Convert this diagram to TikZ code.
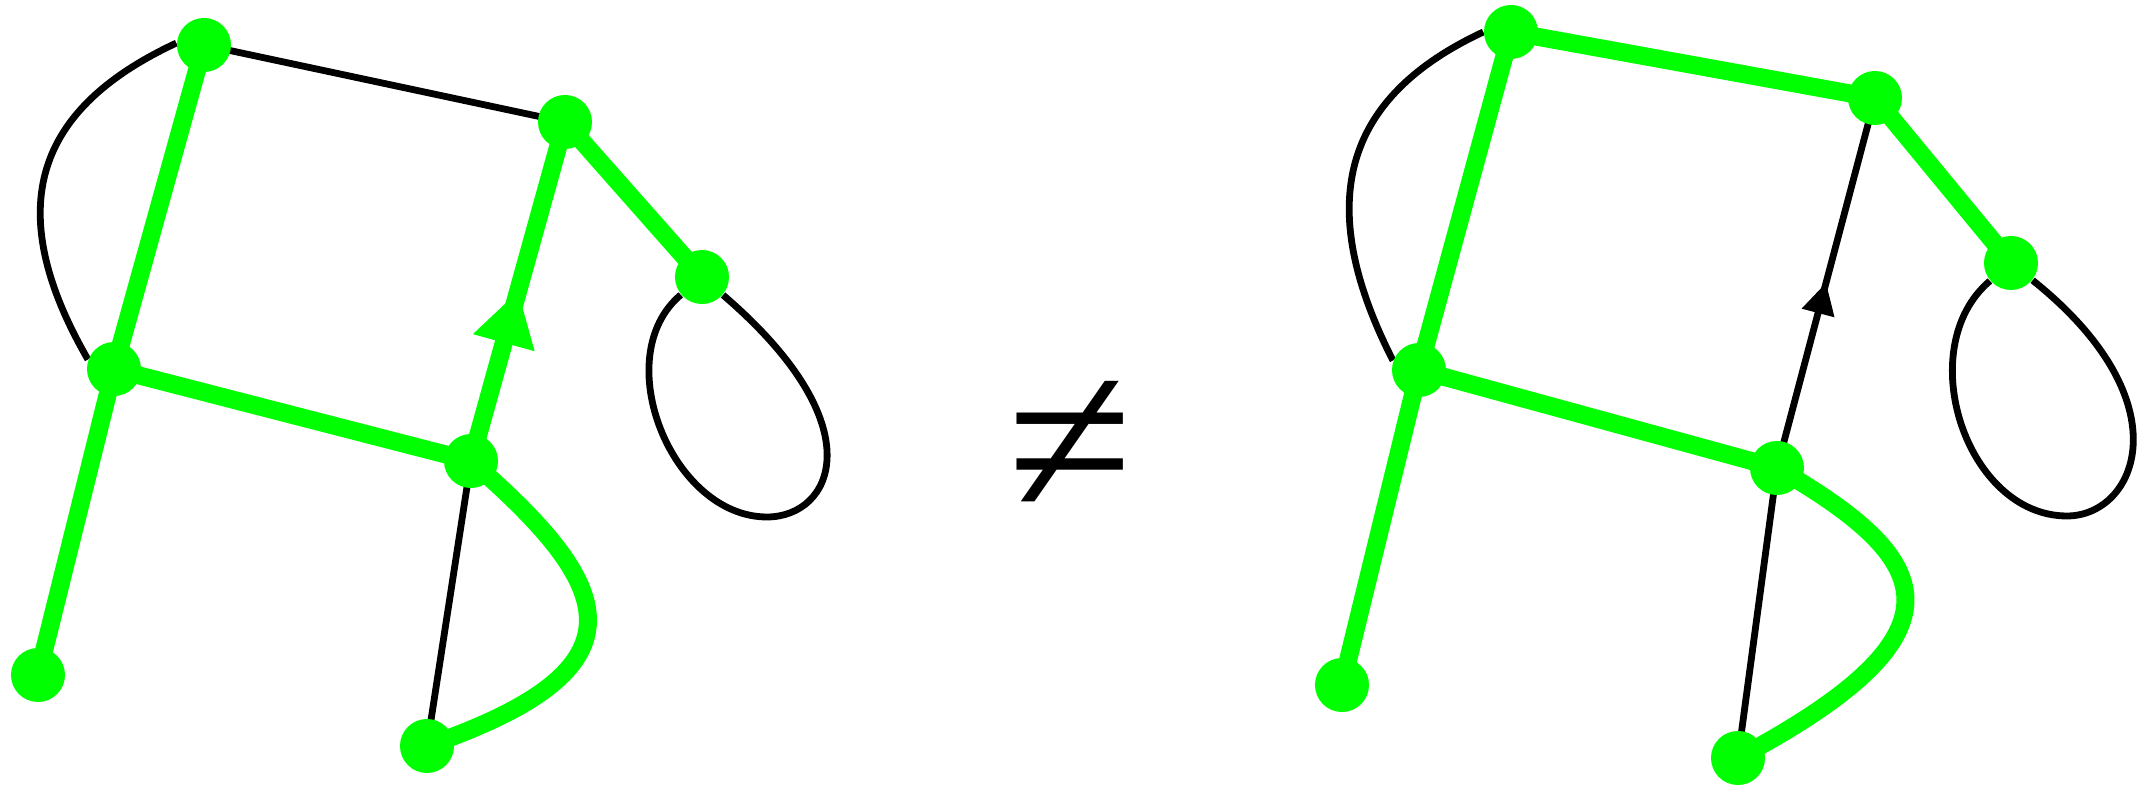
\documentclass[tikz,border=0pt]{standalone}
\usepackage{fontspec}
\newfontfamily\symfont{Liberation Serif}
\usetikzlibrary{arrows.meta,decorations.markings,backgrounds,calc}
\definecolor{gr}{RGB}{0,255,0}
\begin{document}
\begin{tikzpicture}[x=0.01cm,y=0.01cm,
  vtx/.style={circle,fill=gr,inner sep=0pt,minimum size=0.54cm},
  gline/.style={draw=gr,line width=0.18cm},
  bline/.style={draw=black,line width=0.068cm},
  garrow/.style={postaction={decorate},decoration={markings,mark=at position 0.5 with {\arrow[color=gr]{Triangle[length=0.53cm,width=0.64cm,line width=0pt]}}}},
  barrow/.style={postaction={decorate},decoration={markings,mark=at position 0.5 with {\arrow[color=black]{Triangle[length=0.31cm,width=0.34cm,line width=0pt]}}}}
]
\useasboundingbox (0,0) rectangle (2144,-786);
% left graph
\node[vtx] (A) at (204,-45) {};
\node[vtx] (B) at (565,-122) {};
\node[vtx] (C) at (702,-277) {};
\node[vtx] (D) at (114,-369) {};
\node[vtx] (E) at (471,-461) {};
\node[vtx] (F) at (38,-675) {};
\node[vtx] (G) at (427,-746) {};
% right graph
\node[vtx] (A2) at (1511,-32) {};
\node[vtx] (B2) at (1875,-98) {};
\node[vtx] (C2) at (2011,-263) {};
\node[vtx] (D2) at (1419,-370) {};
\node[vtx] (E2) at (1777,-468) {};
\node[vtx] (F2) at (1342,-685) {};
\node[vtx] (G2) at (1738,-758) {};
% not equal sign
\node[font=\symfont\fontsize{65}{65}\selectfont,inner sep=0pt] (neq) at (1070,-449) {≠};
\begin{scope}[on background layer]
  % left edges
  \draw[bline] (A.center) -- (B.center);
  \draw[bline] (A.176) .. controls ($(A.176)+(205:165)$) and ($(D.160)+(120:165)$) .. (D.160);
  \draw[gline] (A.center) -- (D.center);
  \draw[gline] (B.center) -- (C.center);
  \draw[gline,garrow] (E.center) -- (B.center);
  \draw[gline] (D.center) -- (E.center);
  \draw[gline] (D.center) -- (F.center);
  \draw[bline] (E.center) -- (G.center);
  \draw[gline] (E.center) to[out=-41,in=19,out distance=1.9cm,in distance=2.4cm] (G.center);
  \coordinate (Cb) at ($(C)+(65,-240)$);
  \draw[bline] (C) .. controls ($(C)+(-95,-80)$) and ($(C)+(-30,-240)$) .. (Cb)
                   .. controls ($(C)+(130,-240)$) and ($(C)+(175,-150)$) .. (C);
  % right edges
  \draw[gline] (A2.center) -- (B2.center);
  \draw[bline] (A2.180) .. controls ($(A2.180)+(205:165)$) and ($(D2.160)+(117:165)$) .. (D2.160);
  \draw[gline] (A2.center) -- (D2.center);
  \draw[gline] (B2.center) -- (C2.center);
  \draw[bline,barrow] (E2.center) -- (B2.center);
  \draw[gline] (D2.center) -- (E2.center);
  \draw[gline] (D2.center) -- (F2.center);
  \draw[bline] (E2.center) -- (G2.center);
  \draw[gline] (E2.center) to[out=-30,in=28,out distance=1.8cm,in distance=2.7cm] (G2.center);
  \coordinate (Cb2) at ($(C2)+(56,-253)$);
  \draw[bline] (C2) .. controls ($(C2)+(-100,-85)$) and ($(C2)+(-45,-253)$) .. (Cb2)
                    .. controls ($(C2)+(125,-253)$) and ($(C2)+(175,-140)$) .. (C2);
\end{scope}
\end{tikzpicture}
\end{document}
